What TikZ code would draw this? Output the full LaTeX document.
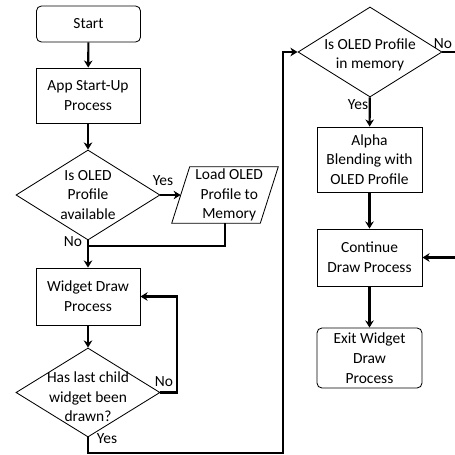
\documentclass[tikz,border=0pt]{standalone}
\usepackage{fontspec}
\setmainfont{Carlito}
\usetikzlibrary{arrows.meta}
\usetikzlibrary{shapes.geometric}

\begin{document}
\begin{tikzpicture}[x=0.025cm,y=-0.025cm,
  every node/.style={font=\fontsize{11}{14}\selectfont},
  outline/.style={draw,line width=0.6pt},
  box/.style={outline,align=center,inner sep=1pt,minimum width=2.6cm},
  roundbox/.style={box,rounded corners=3.5pt},
  decision/.style={outline,diamond,inner sep=0pt,minimum width=3.6cm,minimum height=2.25cm},
  iobox/.style={inner sep=0pt,minimum width=2.65cm,minimum height=1.4cm},
  flow/.style={line width=1.5pt},
  arrow/.style={flow,-{Stealth[length=5pt,width=6pt,inset=1.5pt]}}]
\clip (0,0) rectangle (455,455);
\node[roundbox,minimum height=0.9cm] (start) at (88.5,24) {Start};
\node[box,minimum height=1.375cm] (startup) at (88,95.5) {App Start-Up\\Process};
\node[decision,label={[align=center]center:Is OLED\\Profile\\available}] (avail) at (88,195) {};
\node[iobox,label={[align=center,xshift=3pt]center:Load OLED\\Profile to\\Memory}] (load) at (225,195) {};
\draw[outline] ([xshift=0.45cm]load.north west) -- (load.north east) -- ([xshift=-0.45cm]load.south east) -- (load.south west) -- cycle;
\node[box,minimum height=1.425cm] (widget) at (88,296.5) {Widget Draw\\Process};
\node[decision,minimum height=2.225cm,label={[align=center,yshift=-3pt]center:Has last child\\widget been\\drawn?}] (lastchild) at (88,392.5) {};
\node[decision,label={[align=center,yshift=-2pt]center:Is OLED Profile\\in memory}] (inmem) at (370,52) {};
\node[box,minimum width=2.625cm,minimum height=1.625cm] (blend) at (369.5,159.5) {Alpha\\Blending with\\OLED Profile};
\node[box,minimum width=2.625cm,minimum height=1.425cm] (cont) at (369.5,257.5) {Continue\\Draw Process};
\node[roundbox,minimum width=2.625cm,minimum height=1.5cm] (exit) at (369.5,358) {Exit Widget\\Draw\\Process};
\node (yes1) at (163,181) {Yes};
\node (no1) at (73,242) {No};
\node (no2) at (164,382) {No};
\node (yes2) at (107,439) {Yes};
\node (no3) at (443,44) {No};
\node (yes3) at (358,105) {Yes};
\coordinate (join) at (88,246);
\coordinate (bottomrun) at (283,453);
\coordinate (rightrun) at (462,100);
\draw[arrow] (start) -- (startup);
\draw[arrow] (startup) -- (avail);
\draw[arrow] (avail) -- ([xshift=0.225cm]load.west);
\draw[flow] (load.south) |- (join);
\draw[arrow] (avail) -- (widget);
\draw[arrow] (widget) -- (lastchild);
\draw[arrow] (lastchild.east) -- ++(17,0) |- (widget.east);
\draw[arrow] (lastchild) |- (bottomrun) |- (inmem);
\draw[arrow] (inmem) -- (blend);
\draw[arrow] (blend) -- (cont);
\draw[arrow] (cont) -- (exit);
\draw[arrow] (inmem) -| (rightrun) |- (cont);
\end{tikzpicture}
\end{document}
